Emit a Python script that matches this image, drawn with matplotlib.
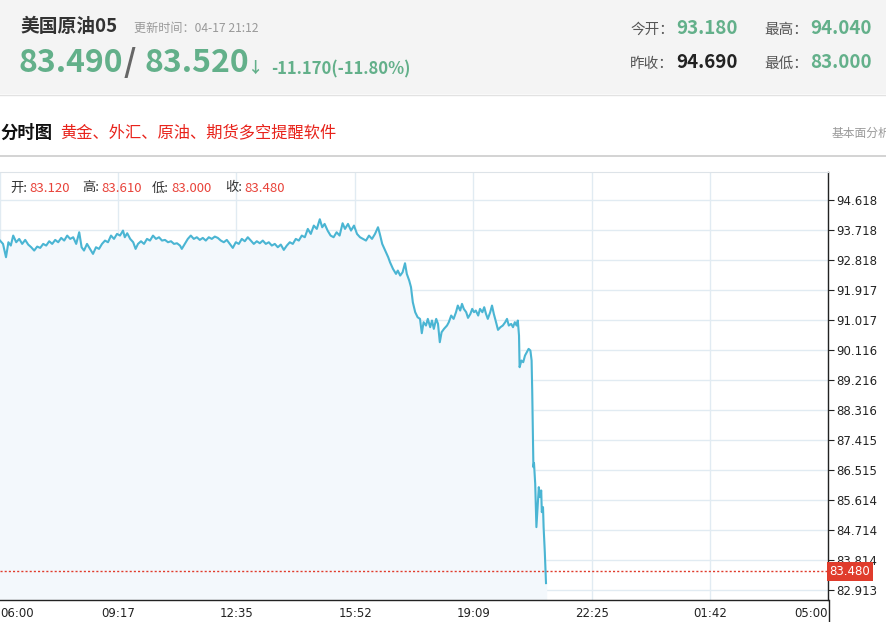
import matplotlib
matplotlib.use("Agg")
import matplotlib.pyplot as plt
from matplotlib.patches import Rectangle
from matplotlib.lines import Line2D

plt.rcParams['font.family'] = ['Noto Sans CJK SC', 'DejaVu Sans']

# 分时数据: 距 06:00 的分钟数, 价格
minutes = [0, 5, 10, 14, 18, 22, 27, 32, 37, 42, 47, 52, 57, 62, 67, 72, 77, 82, 87, 92,
           97, 102, 107, 112, 117, 122, 127, 132, 136, 140, 145, 150, 155, 160, 165, 170,
           175, 180, 185, 190, 195, 200, 205, 208, 212, 217, 222, 226, 230, 235, 240, 245,
           250, 255, 260, 265, 270, 275, 280, 285, 290, 295, 300, 303, 308, 313, 318, 323,
           328, 333, 338, 343, 348, 353, 358, 363, 368, 373, 378, 383, 388, 393, 398, 403,
           408, 413, 418, 423, 428, 433, 438, 443, 448, 453, 458, 463, 468, 473, 478, 483,
           488, 493, 498, 503, 508, 513, 518, 523, 528, 533, 537, 541, 546, 551, 556, 561,
           566, 571, 575, 580, 585, 590, 595, 600, 605, 610, 615, 620, 625, 630, 633, 637,
           642, 647, 650, 655, 660, 663, 667, 671, 675, 678, 682, 685, 688, 692, 696, 700,
           703, 706, 710, 713, 717, 720, 723, 727, 730, 733, 736, 740, 745, 748, 752, 756,
           760, 763, 767, 770, 773, 777, 780, 784, 787, 790, 793, 797, 800, 804, 807, 810,
           813, 817, 820, 823, 826, 830, 834, 838, 842, 845, 848, 852, 855, 858, 861, 863,
           865, 866, 869, 872, 875, 878, 881, 884, 886, 887, 889, 890, 892, 894, 896, 898,
           900, 902, 903, 905, 906, 908, 910]
prices = [93.40, 93.30, 92.90, 93.35, 93.25, 93.55, 93.35, 93.45, 93.30, 93.42, 93.28, 93.20,
          93.10, 93.22, 93.18, 93.30, 93.25, 93.38, 93.30, 93.42, 93.35, 93.48, 93.40, 93.55,
          93.45, 93.50, 93.30, 93.65, 93.20, 93.10, 93.30, 93.15, 93.00, 93.20, 93.15, 93.30,
          93.40, 93.35, 93.55, 93.45, 93.60, 93.55, 93.70, 93.50, 93.62, 93.45, 93.35, 93.15,
          93.30, 93.38, 93.30, 93.45, 93.40, 93.55, 93.45, 93.50, 93.40, 93.42, 93.35, 93.38,
          93.30, 93.32, 93.25, 93.15, 93.30, 93.45, 93.55, 93.45, 93.50, 93.42, 93.48, 93.40,
          93.50, 93.45, 93.52, 93.48, 93.40, 93.35, 93.42, 93.30, 93.18, 93.35, 93.30, 93.45,
          93.38, 93.50, 93.40, 93.30, 93.38, 93.32, 93.40, 93.30, 93.35, 93.25, 93.30, 93.20,
          93.28, 93.12, 93.25, 93.35, 93.30, 93.45, 93.40, 93.55, 93.50, 93.75, 93.60, 93.85,
          93.75, 94.04, 93.80, 93.90, 93.70, 93.55, 93.50, 93.65, 93.55, 93.92, 93.75, 93.90,
          93.70, 93.85, 93.60, 93.50, 93.45, 93.40, 93.55, 93.45, 93.60, 93.80, 93.60, 93.30,
          93.10, 92.90, 92.75, 92.55, 92.40, 92.50, 92.35, 92.45, 92.72, 92.40, 92.20, 92.00,
          91.55, 91.25, 91.10, 91.05, 90.62, 90.95, 90.85, 91.05, 90.80, 91.00, 90.75, 91.05,
          90.90, 90.35, 90.65, 90.75, 90.85, 90.95, 91.15, 91.05, 91.25, 91.45, 91.30, 91.50,
          91.35, 91.25, 91.08, 91.20, 91.35, 91.25, 91.30, 91.15, 91.35, 91.25, 91.40, 91.20,
          91.05, 91.25, 91.45, 91.20, 91.00, 90.72, 90.80, 90.85, 90.95, 91.05, 90.85, 90.90,
          90.80, 90.95, 90.85, 91.00, 90.55, 89.60, 89.80, 89.75, 89.95, 90.05, 90.15, 90.10,
          89.80, 88.90, 86.60, 86.72, 86.10, 84.80, 85.40, 86.00, 85.70, 85.90, 85.25, 85.40,
          84.80, 84.05, 83.12]

x_ticks = [0, 197, 394, 592, 789, 986, 1183, 1380]
x_labels = ['06:00', '09:17', '12:35', '15:52', '19:09', '22:25', '01:42', '05:00']
y_ticks = [94.618, 93.718, 92.818, 91.917, 91.017, 90.116, 89.216, 88.316,
           87.415, 86.515, 85.614, 84.714, 83.814, 82.913]
last_price = 83.480

GREEN = '#63b08a'
RED = '#e03c2c'

fig = plt.figure(figsize=(8.86, 6.22), dpi=100)
W, H = 886, 622

def fx(px):
    return px / W

def fy(py):
    return 1 - py / H

# 顶部灰色信息栏
fig.patches.append(Rectangle((0, fy(94)), 1, 94 / H, transform=fig.transFigure,
                             facecolor='#f4f4f4', edgecolor='none', zorder=0))
fig.add_artist(Line2D([0, 1], [fy(94.5), fy(94.5)], color='#e2e2e2', lw=1))

fig.text(fx(20), fy(27), '美国原油05', fontsize=13.5, fontweight='bold', color='#333333', va='center')
fig.text(fx(134), fy(28), '更新时间：04-17 21:12', fontsize=8.7, color='#999999', va='center')
fig.text(fx(19), fy(63), '83.490', fontsize=23, fontweight='bold', color=GREEN, va='center')
fig.text(fx(124), fy(63), '/', fontsize=23, fontweight='bold', color='#666666', va='center')
fig.text(fx(144), fy(63), '83.520', fontsize=23, fontweight='bold', color=GREEN, va='center')
fig.text(fx(248), fy(68), '↓', fontsize=11, fontweight='bold', color=GREEN, va='center')
fig.text(fx(271), fy(69), '-11.170(-11.80%)', fontsize=12, fontweight='bold', color=GREEN, va='center')

fig.text(fx(630), fy(30), '今开：', fontsize=10.5, color='#555555', va='center')
fig.text(fx(676), fy(29), '93.180', fontsize=13.5, fontweight='bold', color=GREEN, va='center')
fig.text(fx(764), fy(30), '最高：', fontsize=10.5, color='#555555', va='center')
fig.text(fx(810), fy(29), '94.040', fontsize=13.5, fontweight='bold', color=GREEN, va='center')
fig.text(fx(630), fy(64), '昨收：', fontsize=10.5, color='#555555', va='center')
fig.text(fx(676), fy(63), '94.690', fontsize=13.5, fontweight='bold', color='#222222', va='center')
fig.text(fx(764), fy(64), '最低：', fontsize=10.5, color='#555555', va='center')
fig.text(fx(810), fy(63), '83.000', fontsize=13.5, fontweight='bold', color=GREEN, va='center')

# 分时图标题栏
fig.text(fx(0), fy(133), '分时图', fontsize=12.5, fontweight='bold', color='#111111', va='center')
fig.text(fx(60), fy(133), '黄金、外汇、原油、期货多空提醒软件', fontsize=11.7, color='#e8231b', va='center')
fig.text(fx(832), fy(133), '基本面分析', fontsize=8.5, color='#999999', va='center')
fig.add_artist(Line2D([0, 1], [fy(155.5), fy(155.5)], color='#cccccc', lw=1.2))

# 主图
ax = fig.add_axes([0, fy(600), fx(828), (600 - 172) / H])
ax.set_xlim(0, 1380)
ax.set_ylim(82.613, 95.458)

ax.fill_between(minutes, prices, 82.613, color='#f3f8fc', zorder=1)
ax.plot(minutes, prices, color='#4ab5d3', lw=1.5, zorder=3)
ax.axhline(last_price, color=RED, lw=1, ls=(0, (1.5, 1.5)), zorder=2)

ax.set_xticks(x_ticks)
ax.set_xticklabels(x_labels)
ax.set_yticks(y_ticks)
ax.set_yticklabels(['%.3f' % v for v in y_ticks])
ax.grid(True, color='#e1ebf2', lw=1)
ax.set_axisbelow(True)

ax.yaxis.tick_right()
ax.tick_params(axis='y', direction='out', length=4, width=0.8, color='#222222',
               labelsize=8.5, labelcolor='#222222', pad=2)
ax.tick_params(axis='x', length=0, labelsize=8.5, labelcolor='#222222', pad=5)
for lbl in ax.get_yticklabels() + ax.get_xticklabels():
    lbl.set_family('DejaVu Sans')
xl = ax.get_xticklabels()
xl[0].set_ha('left')
xl[-1].set_ha('right')

ax.spines['left'].set_visible(False)
ax.spines['top'].set_color('#dde3e8')
ax.spines['bottom'].set_color('#222222')
ax.spines['right'].set_color('#222222')
ax.spines['right'].set_linewidth(1)
ax.spines['bottom'].set_linewidth(1)

# 右侧轴线延伸到底部
fig.add_artist(Line2D([fx(828.5), fx(828.5)], [0, fy(600)], color='#222222', lw=1))

# 最新价标签
ax.text(1.002, last_price, '%.3f' % last_price, transform=ax.get_yaxis_transform(),
        fontsize=8.5, color='white', va='center', ha='left', family='DejaVu Sans',
        bbox=dict(boxstyle='square,pad=0.25', facecolor=RED, edgecolor='none'),
        clip_on=False, zorder=5)

# OHLC 信息
ohlc = [('开:', '83.120'), ('高:', '83.610'), ('低:', '83.000'), ('收:', '83.480')]
ohlc_x = [10, 82, 152, 225]
for (k, v), px in zip(ohlc, ohlc_x):
    fig.text(fx(px), fy(188), k, fontsize=9.5, color='#333333', va='center')
    fig.text(fx(px + 19), fy(188), v, fontsize=9.5, color='#e8433a', va='center')

fig.savefig('out.png', dpi=100)
